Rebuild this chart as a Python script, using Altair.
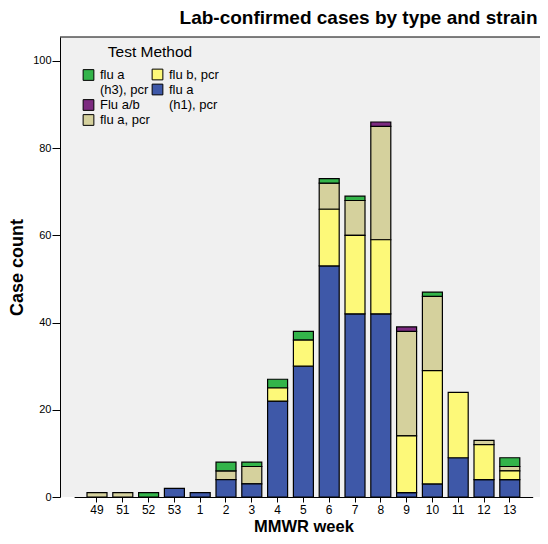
import altair as alt
import pandas as pd

weeks = ["49", "51", "52", "53", "1", "2", "3", "4", "5", "6", "7", "8", "9", "10", "11", "12", "13"]
flu_a_h1 = [0, 0, 0, 2, 1, 4, 3, 22, 30, 53, 42, 42, 1, 3, 9, 4, 4]
flu_b = [0, 0, 0, 0, 0, 0, 0, 3, 6, 13, 18, 17, 13, 26, 15, 8, 2]
flu_a = [1, 1, 0, 0, 0, 2, 4, 0, 0, 6, 8, 26, 24, 17, 0, 1, 1]
flu_ab = [0, 0, 0, 0, 0, 0, 0, 0, 0, 0, 0, 1, 1, 0, 0, 0, 0]
flu_a_h3 = [0, 0, 1, 0, 0, 2, 1, 2, 2, 1, 1, 0, 0, 1, 0, 0, 2]

# stacking order, bottom to top; group = legend column (A left, B right)
series = [
    ("flu a (h1), pcr", flu_a_h1, "B"),
    ("flu b, pcr", flu_b, "B"),
    ("flu a, pcr", flu_a, "A"),
    ("Flu a/b", flu_ab, "A"),
    ("flu a (h3), pcr", flu_a_h3, "A"),
]

rows = []
cum = [0] * len(weeks)
for name, vals, grp in series:
    for i, (w, v) in enumerate(zip(weeks, vals)):
        if v > 0:
            rows.append({"week": w, "method": name, "count": v,
                         "y0": cum[i], "y1": cum[i] + v, "grp": grp})
            cum[i] += v
df = pd.DataFrame(rows)

domain_a = ["flu a (h3), pcr", "Flu a/b", "flu a, pcr"]
colors_a = ["#33b44a", "#7c2b80", "#d5d19d"]
domain_b = ["flu b, pcr", "flu a (h1), pcr"]
colors_b = ["#fdf979", "#3e58a8"]

font = "Liberation Sans, Arial, Helvetica, sans-serif"

label_expr = ("datum.label == 'flu a (h3), pcr' ? ['flu a', '(h3), pcr'] : "
              "datum.label == 'flu a (h1), pcr' ? ['flu a', '(h1), pcr'] : datum.label")

W = 480
H = 460

common_legend = dict(orient="none", symbolType="square", symbolSize=115,
                     symbolStrokeColor="black", symbolStrokeWidth=1, symbolOpacity=1,
                     labelExpr=label_expr, labelFontSize=13, rowPadding=0, labelOffset=5)

enc = {"labels": {"update": {"lineHeight": {"value": 12.5}}}}
try:
    alt.Legend(encode=enc)
except Exception:
    enc = None

legend_a_kw = dict(legendX=22, legendY=8, titleFontSize=15.5, titleFontWeight="normal",
                   titleAnchor="end", titleAlign="center", titlePadding=8, **common_legend)
legend_b_kw = dict(legendX=91, legendY=31, **common_legend)
if enc is not None:
    legend_a_kw["encode"] = enc
    legend_b_kw["encode"] = enc

x_enc = alt.X("week:N", sort=weeks, title="MMWR week",
              scale=alt.Scale(paddingInner=0.225, paddingOuter=0.5, range=[14.1, 472.7]),
              axis=alt.Axis(labelAngle=0, labelFontSize=12, titleFontSize=16.5,
                            titleFontWeight="bold", titlePadding=3, tickSize=5,
                            labelPadding=2))
y_enc = alt.Y("y0:Q", title="Case count",
              scale=alt.Scale(domain=[0, 105.5], nice=False),
              axis=alt.Axis(values=[0, 20, 40, 60, 80, 100], grid=False, labelFontSize=11,
                            titleFontSize=18, titleFontWeight="bold", titlePadding=6,
                            tickSize=8, labelPadding=1))

bars_a = alt.Chart(df[df["grp"] == "A"]).mark_bar(stroke="black", strokeWidth=1.2).encode(
    x=x_enc,
    y=y_enc,
    y2="y1:Q",
    color=alt.Color("method:N", title="Test Method",
                    scale=alt.Scale(domain=domain_a, range=colors_a),
                    legend=alt.Legend(**legend_a_kw)),
)

bars_b = alt.Chart(df[df["grp"] == "B"]).mark_bar(stroke="black", strokeWidth=1.2).encode(
    x=x_enc,
    y=y_enc,
    y2="y1:Q",
    color=alt.Color("method:N", title=None,
                    scale=alt.Scale(domain=domain_b, range=colors_b),
                    legend=alt.Legend(**legend_b_kw)),
)

top_line = alt.Chart(pd.DataFrame({"k": [0]})).mark_rule(color="black", strokeWidth=1).encode(
    y=alt.value(0), x=alt.value(0), x2=alt.value(W)
)

chart = alt.layer(bars_a, bars_b, top_line).resolve_scale(color="independent").properties(
    width=W,
    height=H,
    title=alt.TitleParams("Lab-confirmed cases by type and strain", anchor="end",
                          fontSize=19, fontWeight="bold", offset=9, dx=-3),
    autosize=alt.AutoSizeParams(type="none"),
    padding={"left": 52, "top": 29, "right": 0, "bottom": 39},
).configure(
    font=font,
).configure_view(
    fill="#f0f0f0", stroke=None,
).configure_axis(
    domainColor="black", tickColor="black", labelColor="black", titleColor="black",
    labelFont=font, titleFont=font, domainWidth=1,
).configure_legend(
    labelFont=font, titleFont=font, labelColor="black", titleColor="black",
).configure_title(font=font, color="black")

chart.save("out.html", embed_options={"renderer": "svg", "actions": False})
